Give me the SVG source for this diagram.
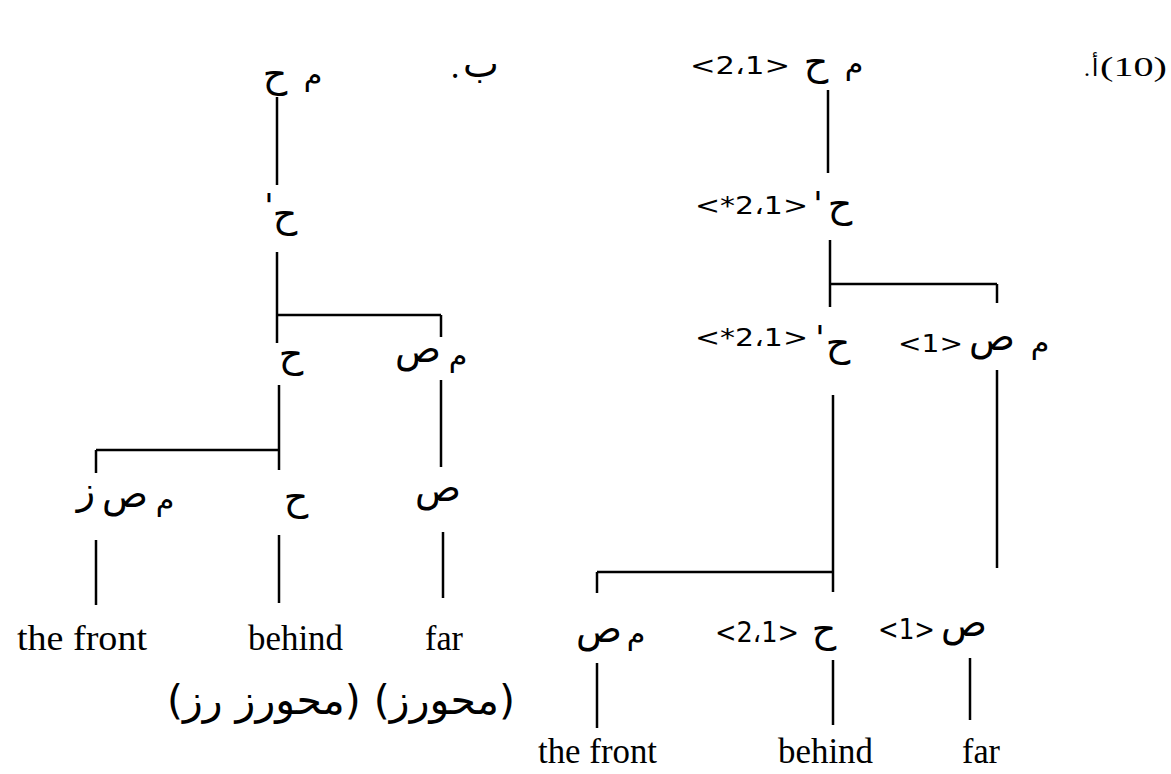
<svg xmlns="http://www.w3.org/2000/svg" width="1171" height="774" viewBox="0 0 1171 774">
<style>
.ar{font-family:"DejaVu Sans",sans-serif;font-size:38px;fill:#000}
.m{font-family:"DejaVu Sans",sans-serif;font-size:30px;fill:#000}
.pr{font-family:"DejaVu Sans",sans-serif;font-size:34px;fill:#000}
.br{font-family:"DejaVu Sans",sans-serif;font-size:25px;fill:#000}
.brL{font-family:"DejaVu Sans",sans-serif;font-size:29px;fill:#000}
.en{font-family:"Liberation Serif",serif;font-size:35px;fill:#000}
.cap{font-family:"DejaVu Sans",sans-serif;font-size:41px;fill:#000}
.con line{stroke:#000;stroke-width:2.5;fill:none}
</style>
<rect width="1171" height="774" fill="#fff"/>

<g id="label-a"><text class="en" x="1100" y="76" textLength="67" lengthAdjust="spacingAndGlyphs" style="font-size:28px">(10)</text><text class="ar" x="1095" y="76" text-anchor="middle" style="font-size:24px">أ</text><text class="en" x="1087" y="76" text-anchor="middle" style="font-size:24px">.</text></g>
<g id="label-b"><text class="ar" x="481" y="77" text-anchor="middle">ب</text><text class="en" x="455" y="78" text-anchor="middle">.</text></g>

<g class="con" id="connectors">
<line x1="277" y1="97" x2="277" y2="185"/>
<line x1="277" y1="252" x2="277" y2="343"/>
<line x1="277" y1="315" x2="441" y2="315"/>
<line x1="441" y1="315" x2="441" y2="337"/>
<line x1="441" y1="380" x2="441" y2="467"/>
<line x1="279" y1="385" x2="279" y2="470"/>
<line x1="96" y1="450" x2="279" y2="450"/>
<line x1="96" y1="450" x2="96" y2="473"/>
<line x1="96" y1="540" x2="96" y2="605"/>
<line x1="279" y1="535" x2="279" y2="603"/>
<line x1="443" y1="532" x2="443" y2="598"/>

<line x1="828" y1="90" x2="828" y2="173"/>
<line x1="830" y1="240" x2="830" y2="307"/>
<line x1="830" y1="284" x2="997" y2="284"/>
<line x1="997" y1="284" x2="997" y2="303"/>
<line x1="997" y1="370" x2="997" y2="568"/>
<line x1="833" y1="395" x2="833" y2="592"/>
<line x1="597" y1="572" x2="833" y2="572"/>
<line x1="597" y1="572" x2="597" y2="593"/>
<line x1="597" y1="663" x2="597" y2="728"/>
<line x1="833" y1="660" x2="833" y2="725"/>
<line x1="970" y1="658" x2="970" y2="720"/>
</g>

<!-- left tree -->
<g id="L-root"><text class="ar" x="275" y="87" text-anchor="middle">ح</text><text class="m" x="313" y="85" text-anchor="middle">م</text></g>
<g id="L-hbar1"><text class="ar" x="285" y="227" text-anchor="middle">ح</text><text class="pr" x="269" y="218" text-anchor="middle">'</text></g>
<g id="L-h"><text class="ar" x="291" y="367" text-anchor="middle">ح</text></g>
<g id="L-ms"><text class="ar" x="418" y="362" text-anchor="middle">ص</text><text class="m" x="458" y="366" text-anchor="middle">م</text></g>
<g id="L-msz"><text class="ar" x="86" y="504" text-anchor="middle">ز</text><text class="ar" x="125" y="507" text-anchor="middle">ص</text><text class="m" x="165" y="510" text-anchor="middle">م</text></g>
<g id="L-h2"><text class="ar" x="296" y="510" text-anchor="middle">ح</text></g>
<g id="L-s"><text class="ar" x="438" y="501" text-anchor="middle">ص</text></g>
<g id="L-w1"><text class="en" x="17" y="650" textLength="130" lengthAdjust="spacingAndGlyphs">the front</text></g>
<g id="L-w2"><text class="en" x="248" y="650" textLength="95" lengthAdjust="spacingAndGlyphs">behind</text></g>
<g id="L-w3"><text class="en" x="425" y="650" textLength="38" lengthAdjust="spacingAndGlyphs">far</text></g>
<g id="L-caption"><text class="cap" x="341" y="714" text-anchor="middle" direction="rtl">(محورز) (محورز رز)</text></g>

<!-- right tree -->
<g id="R-root"><text class="br" x="690" y="74" textLength="100" lengthAdjust="spacingAndGlyphs">&lt;2،1&gt;</text><text class="ar" x="816" y="75" text-anchor="middle">ح</text><text class="m" x="854" y="74" text-anchor="middle">م</text></g>
<g id="R-hbar1"><text class="br" x="695" y="214" textLength="113" lengthAdjust="spacingAndGlyphs">&lt;*2،1&gt;</text><text class="pr" x="818" y="216" text-anchor="middle">'</text><text class="ar" x="840" y="217" text-anchor="middle">ح</text></g>
<g id="R-hbar2"><text class="br" x="695" y="346" textLength="113" lengthAdjust="spacingAndGlyphs">&lt;*2،1&gt;</text><text class="pr" x="820" y="350" text-anchor="middle">'</text><text class="ar" x="838" y="356" text-anchor="middle">ح</text></g>
<g id="R-ms"><text class="br" x="898" y="352" textLength="65" lengthAdjust="spacingAndGlyphs">&lt;1&gt;</text><text class="ar" x="992" y="350" text-anchor="middle">ص</text><text class="m" x="1040" y="353" text-anchor="middle">م</text></g>
<g id="R-ms2"><text class="ar" x="599" y="642" text-anchor="middle">ص</text><text class="m" x="636" y="644" text-anchor="middle">م</text></g>
<g id="R-h"><text class="brL" x="715" y="642" textLength="84" lengthAdjust="spacingAndGlyphs">&lt;2،1&gt;</text><text class="ar" x="824" y="642" text-anchor="middle">ح</text></g>
<g id="R-s"><text class="brL" x="878" y="639" textLength="57" lengthAdjust="spacingAndGlyphs">&lt;1&gt;</text><text class="ar" x="964" y="636" text-anchor="middle">ص</text></g>
<g id="R-w1"><text class="en" x="538" y="763" textLength="119" lengthAdjust="spacingAndGlyphs">the front</text></g>
<g id="R-w2"><text class="en" x="778" y="763" textLength="95" lengthAdjust="spacingAndGlyphs">behind</text></g>
<g id="R-w3"><text class="en" x="962" y="763" textLength="38" lengthAdjust="spacingAndGlyphs">far</text></g>
</svg>
